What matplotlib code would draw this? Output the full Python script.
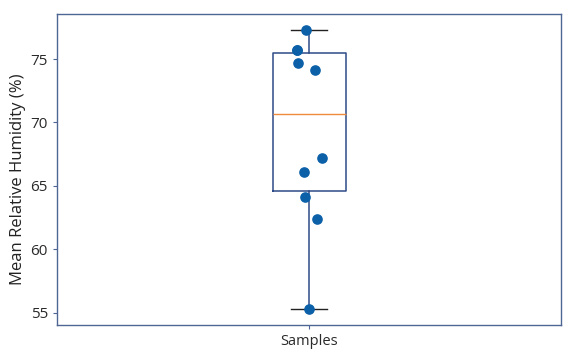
import numpy as np
import matplotlib.pyplot as plt

# mean relative humidity samples (%)
humidity = [77.3, 75.7, 75.7, 74.7, 74.1, 67.2, 66.1, 64.1, 62.4, 55.3]
# horizontal jitter of each dot around the box centre
jitter = [-0.007, -0.023, -0.023, -0.022, 0.012, 0.025, -0.010, -0.009, 0.015, 0.0]
category = "Samples"

plt.rcParams['font.family'] = ['Open Sans', 'DejaVu Sans']

box_col = '#2e4a86'
spine_col = '#4d6694'

fig = plt.figure(figsize=(5.63, 3.49), dpi=100)
ax = fig.add_axes([0.101, 0.069, 0.896, 0.891])

ax.boxplot(humidity, positions=[1], widths=0.145,
           boxprops=dict(color=box_col, linewidth=1.1),
           whiskerprops=dict(color=box_col, linewidth=1.1),
           capprops=dict(color='#222222', linewidth=1.0),
           medianprops=dict(color='#f08a3c', linewidth=1.0),
           showfliers=False)

ax.scatter(1 + np.array(jitter), humidity, s=44, color='#0b60a8', zorder=3)

ax.set_xlim(0.5, 1.5)
ax.set_ylim(54.05, 78.55)
ax.set_yticks([55, 60, 65, 70, 75])
ax.set_xticks([1])
ax.set_xticklabels([category], fontsize=10.5)
ax.set_ylabel("Mean Relative Humidity (%)", fontsize=12, color='#222222')
ax.yaxis.set_label_coords(-0.061, 0.47)

for s in ax.spines.values():
    s.set_color(spine_col)
    s.set_linewidth(1.0)
ax.tick_params(colors=spine_col, labelcolor='#2a2a2a', length=3)
ax.tick_params(axis='y', labelsize=11)

plt.savefig('out.png', dpi=100)
